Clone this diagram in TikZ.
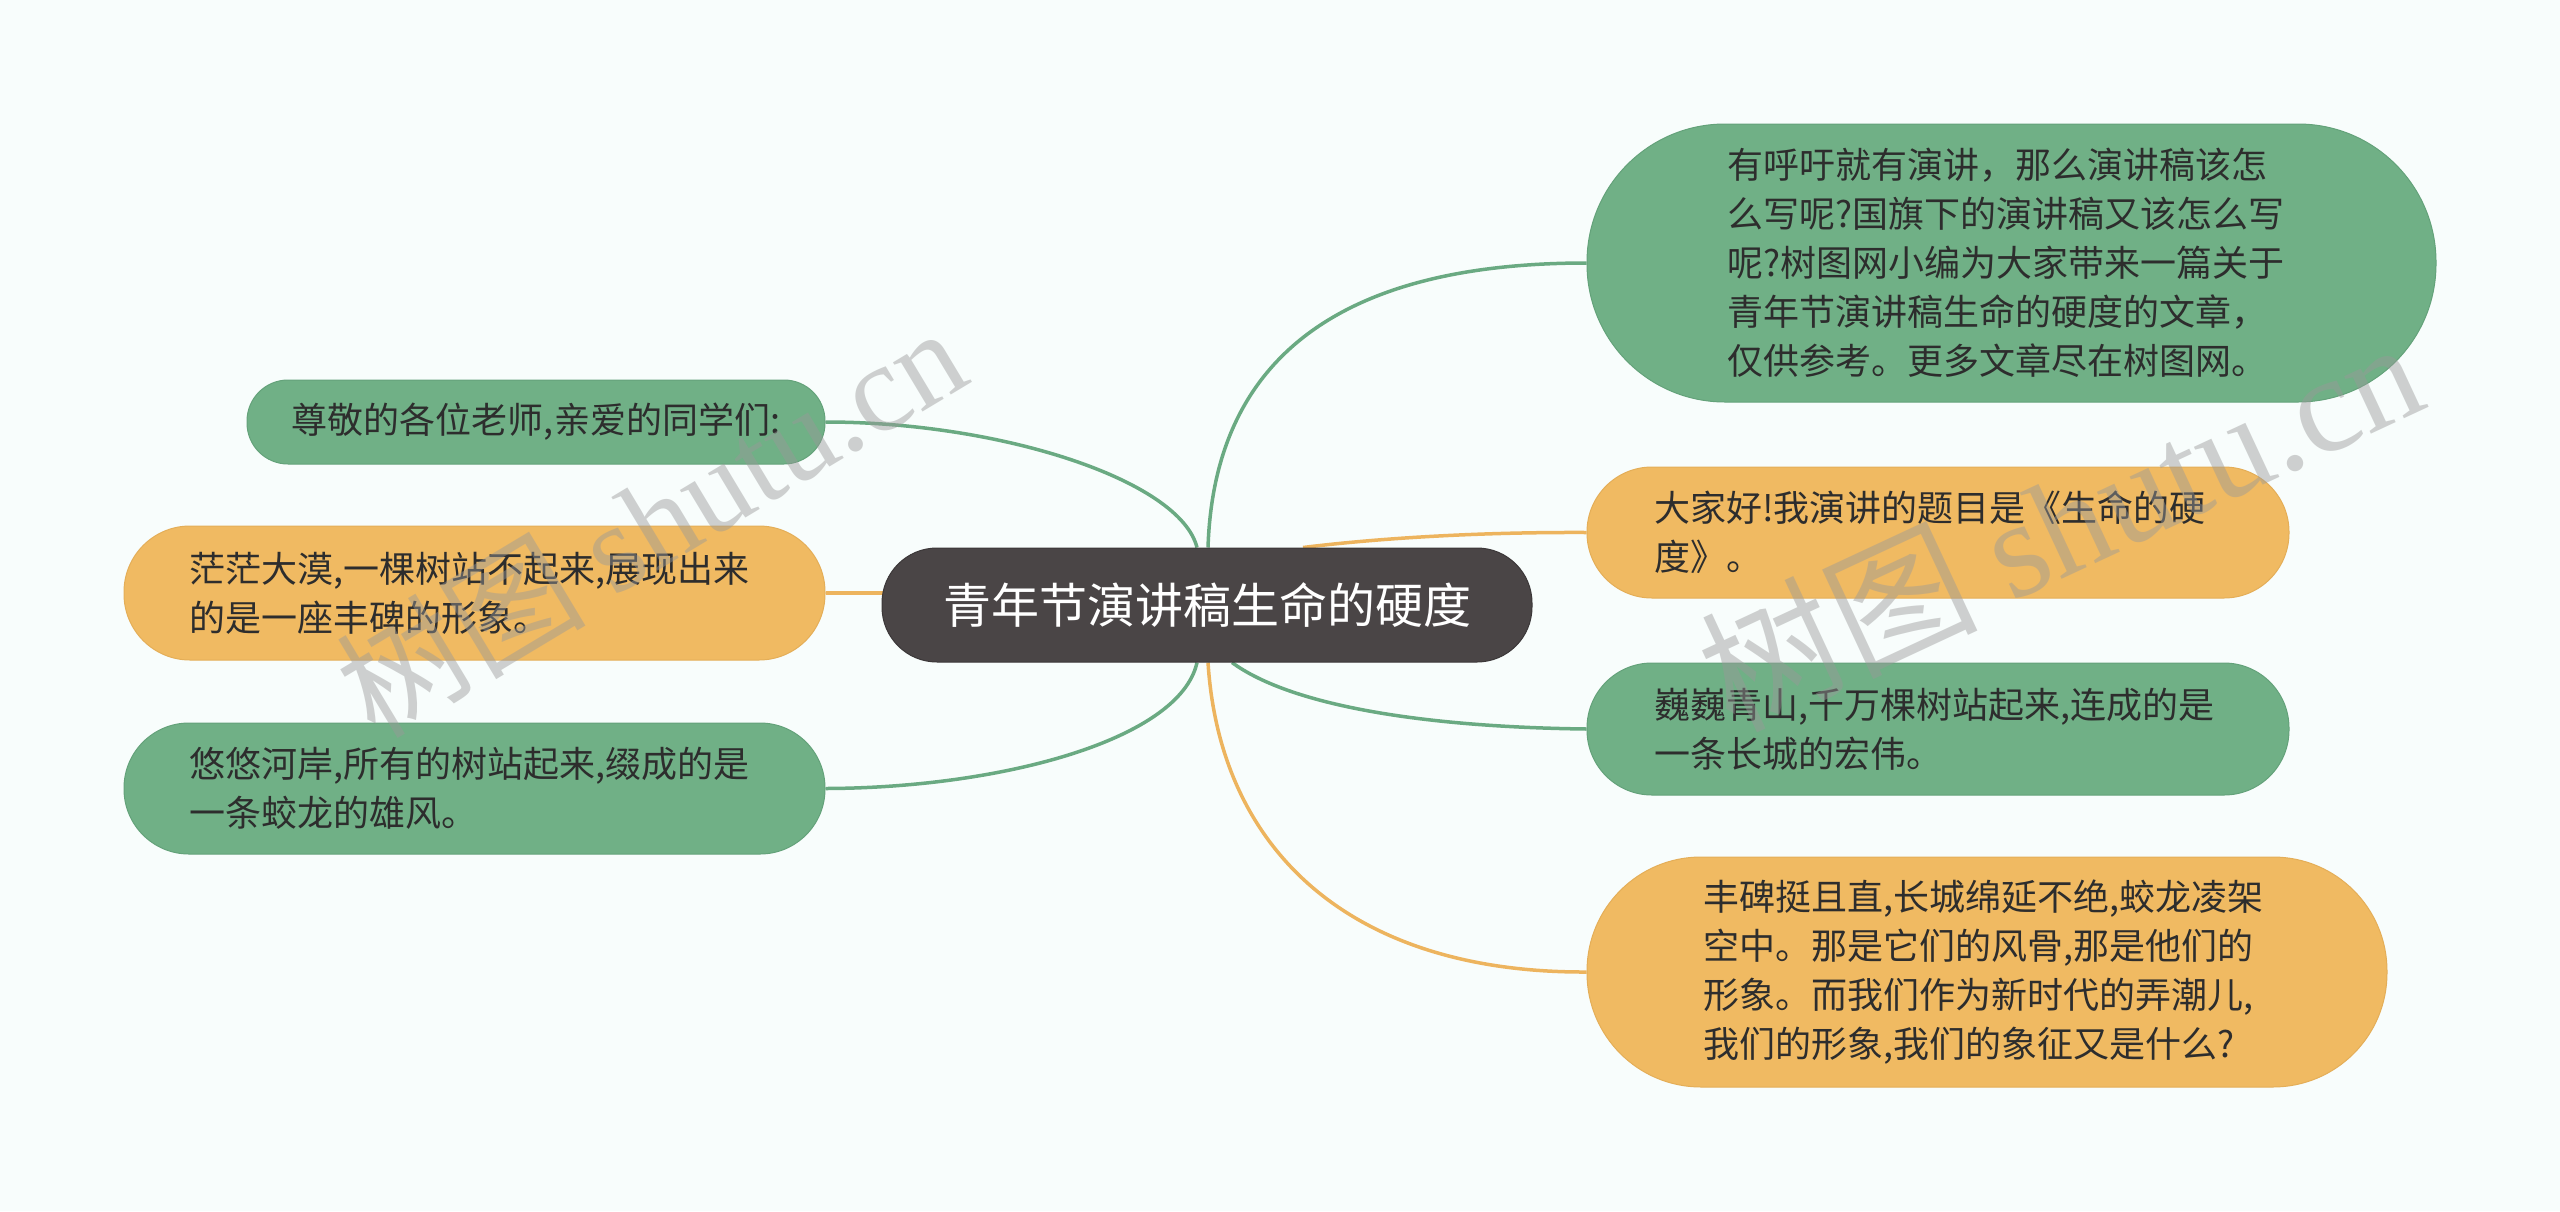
\documentclass[tikz,border=0pt]{standalone}
\usepackage{fontspec}
\setmainfont{Noto Sans CJK SC}
\newfontfamily\wmlatin{Liberation Serif}
\usetikzlibrary{calc,backgrounds}
\definecolor{bgc}{RGB}{248,253,252}
\definecolor{gfill}{RGB}{112,176,134}
\definecolor{gdraw}{RGB}{100,162,122}
\definecolor{ofill}{RGB}{240,186,98}
\definecolor{odraw}{RGB}{228,174,88}
\definecolor{cfill}{RGB}{74,69,70}
\definecolor{txt}{RGB}{45,45,45}
\definecolor{gln}{RGB}{106,170,130}
\definecolor{oln}{RGB}{237,180,94}
\tikzset{
  box/.style={rectangle, inner sep=0pt, line width=1pt, text=txt, align=left,
    font=\fontsize{36}{49}\selectfont},
  gbox/.style={box, fill=gfill, draw=gdraw},
  obox/.style={box, fill=ofill, draw=odraw},
  cbox/.style={rectangle, inner sep=0pt, fill=cfill, draw=cfill!80!black, line width=1pt,
    text=white, font=\fontsize{48}{56}\selectfont},
  gline/.style={draw=gln, line width=3.5pt},
  oline/.style={draw=oln, line width=3.5pt},
  wm/.style={text=black!40, opacity=0.45}
}
\begin{document}
\begin{tikzpicture}[x=1pt,y=-1pt]
\useasboundingbox (0,0) rectangle (2560,1211);

\node[cbox, minimum width=650, minimum height=114, rounded corners=55] (c) at (1207,605) {青年节演讲稿生命的硬度};

\node[gbox, minimum width=849, minimum height=278, rounded corners=138, text width=569] (r1) at (2011.5,263)
 {有呼吁就有演讲，那么演讲稿该怎\\么写呢?国旗下的演讲稿又该怎么写\\呢?树图网小编为大家带来一篇关于\\青年节演讲稿生命的硬度的文章，\\仅供参考。更多文章尽在树图网。};
\node[obox, minimum width=702, minimum height=131, rounded corners=65, text width=568] (r2) at (1938,532.5)
 {大家好!我演讲的题目是《生命的硬\\度》。};
\node[gbox, minimum width=702, minimum height=132, rounded corners=65, text width=568] (r3) at (1938,729)
 {巍巍青山,千万棵树站起来,连成的是\\一条长城的宏伟。};
\node[obox, minimum width=800, minimum height=230, rounded corners=114, text width=568] (r4) at (1987,972)
 {丰碑挺且直,长城绵延不绝,蛟龙凌架\\空中。那是它们的风骨,那是他们的\\形象。而我们作为新时代的弄潮儿,\\我们的形象,我们的象征又是什么?};

\node[gbox, minimum width=578, minimum height=84, rounded corners=41] (l1) at (536,422)
 {尊敬的各位老师,亲爱的同学们:};
\node[obox, minimum width=701, minimum height=134, rounded corners=66, text width=571] (l2) at (474.5,593)
 {茫茫大漠,一棵树站不起来,展现出来\\的是一座丰碑的形象。};
\node[gbox, minimum width=701, minimum height=131, rounded corners=65, text width=571] (l3) at (474.5,788.5)
 {悠悠河岸,所有的树站起来,缀成的是\\一条蛟龙的雄风。};

\begin{pgfonlayer}{background}
\fill[bgc] (0,0) rectangle (2560,1211);
\draw[gline] ($(c.north)+(1,0)$) .. controls (1215,330) and (1380,263) .. (r1.west);
\draw[oline] ($(c.north)+(96,0)$) .. controls (1380,538) and (1480,532) .. (r2.west);
\draw[gline] ($(c.south)+(25,0)$) .. controls (1290,705) and (1420,727) .. (r3.west);
\draw[oline] ($(c.south)+(1,0)$) .. controls (1220,850) and (1350,973) .. (r4.west);
\draw[gline] ($(c.north)+(-10,0)$) .. controls (1180,480) and (1000,422) .. (l1.east);
\draw[oline] (c.center |- l2.east) -- (l2.east);
\draw[gline] ($(c.south)+(-10,0)$) .. controls (1180,740) and (1000,788) .. (l3.east);
\end{pgfonlayer}

\node[wm, rotate=31, font=\fontsize{125}{130}\selectfont] (wm1) at (650,520) {树图 {\wmlatin shutu.cn}};
\node[wm, rotate=25, font=\fontsize{138}{142}\selectfont] (wm2) at (2060,522) {树图 {\wmlatin shutu.cn}};
\end{tikzpicture}
\end{document}
